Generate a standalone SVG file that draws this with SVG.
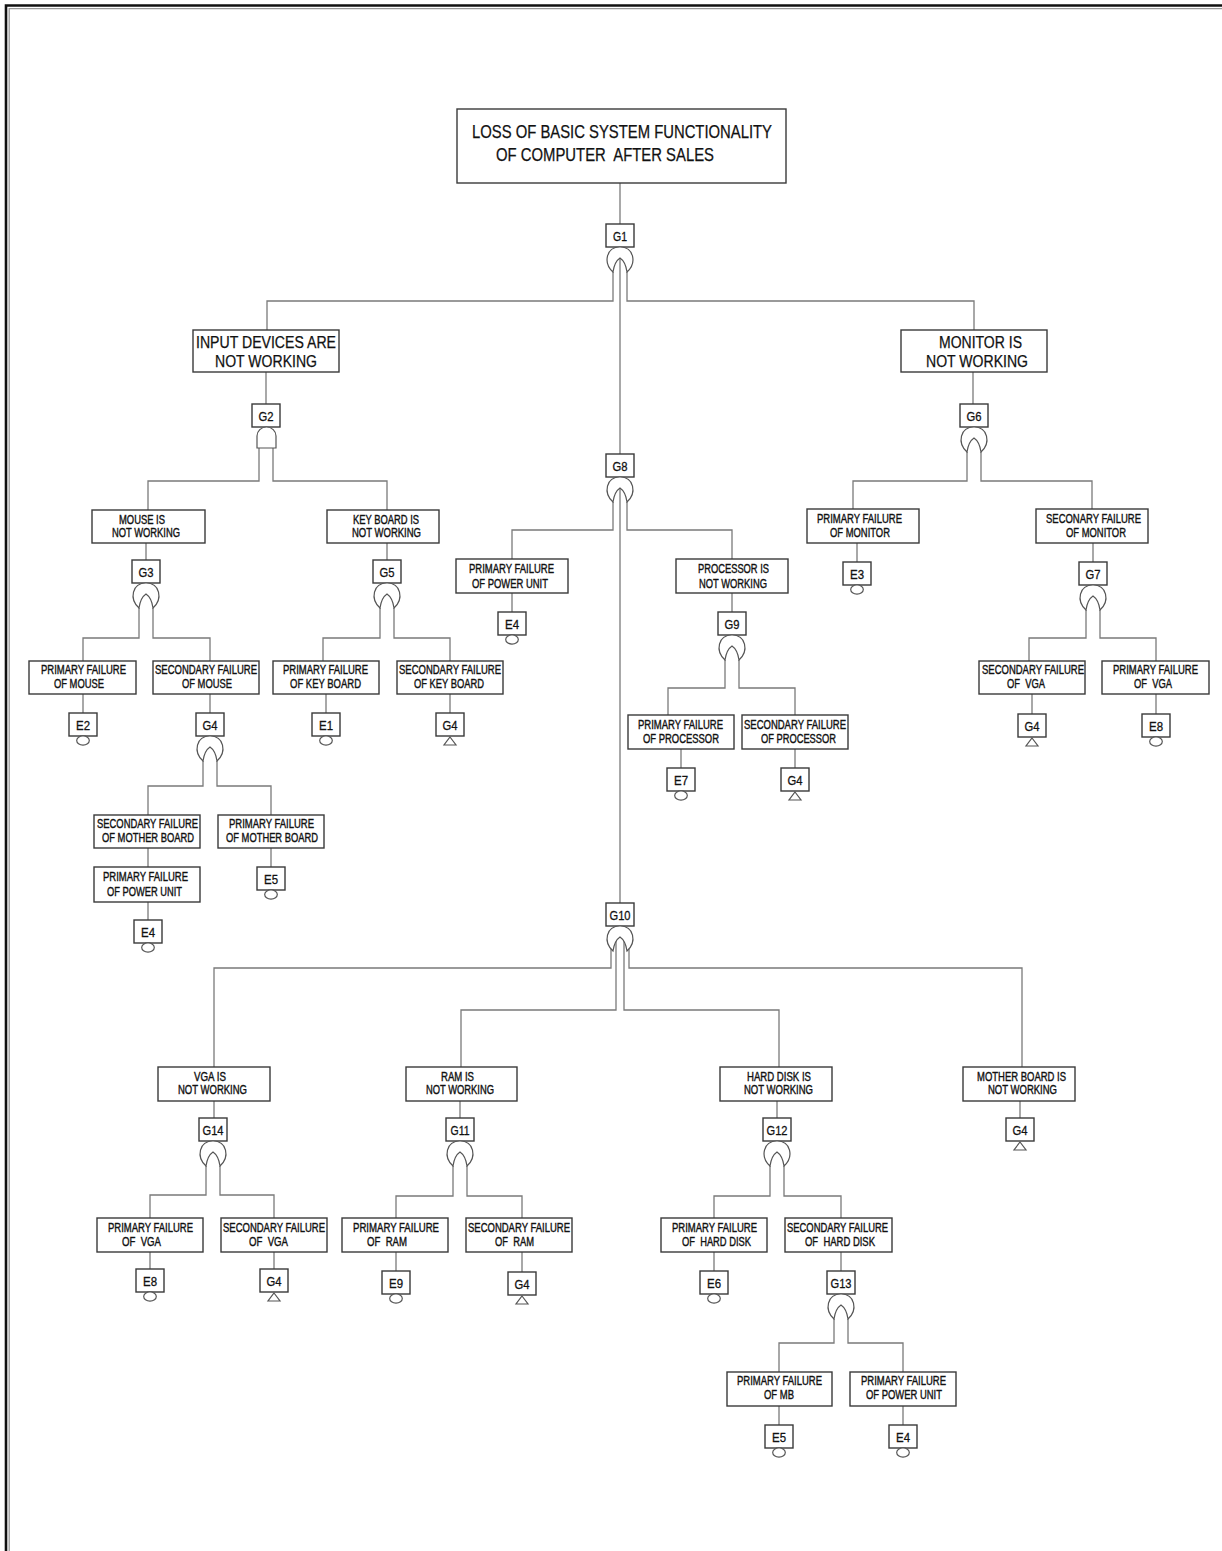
<svg xmlns="http://www.w3.org/2000/svg" xmlns:xlink="http://www.w3.org/1999/xlink" width="1222" height="1551" viewBox="0 0 1222 1551">
<style>
.bx{fill:#fff;stroke:#3a3a3a;stroke-width:1.4}
.lb{fill:#fff;stroke:#3a3a3a;stroke-width:1.4}
.w{fill:none;stroke:#7a7a7a;stroke-width:1.3}
.sym{fill:#fff;stroke:#555;stroke-width:1.2}
text{font-family:"Liberation Sans",Arial,sans-serif;fill:#111;stroke:#111;stroke-width:0.25}
.t1{font-size:18px}
.t2{font-size:16px}
.t3{font-size:12.5px;stroke-width:0.4}
.tg{font-size:13px;text-anchor:middle;stroke-width:0.3}
</style>
<defs>
<path id="org" class="sym" d="M-7,25 C-17,16 -14,0 0,0 C14,0 17,16 7,25 C6,18 3,13 0,11 C-3,13 -6,18 -7,25 Z"/>
<path id="andg" class="sym" d="M-9.5,21 V9 A9.5,9 0 0 1 9.5,9 V21 Z"/>
<path id="tri" class="sym" d="M0,0 L6,8 L-6,8 Z"/>
<ellipse id="circ" class="sym" cx="0" cy="0" rx="6.3" ry="4.6"/>
</defs>
<rect width="1222" height="1551" fill="#fff"/>
<g id="frame">
<path d="M6,1551 V5.5 H1222" fill="none" stroke="#111" stroke-width="2.6"/>
<path d="M9.2,1551 V8.6 H1222" fill="none" stroke="#9a9a9a" stroke-width="1.3"/>
</g>
<g id="connectors">
<path class="w" d="M620,183 V224"/>
<path class="w" d="M613,272 V301 H267 V330 M627,272 V301 H974 V330 M620,258 V454"/>
<path class="w" d="M266,372 V404"/>
<path class="w" d="M259,448 V481 H148 V510 M273,448 V481 H387 V510"/>
<path class="w" d="M146,543 V560 M387,543 V560"/>
<path class="w" d="M139,608 V638 H83 V661 M153,608 V638 H210 V661"/>
<path class="w" d="M380,608 V638 H323 V661 M394,608 V638 H450 V661"/>
<path class="w" d="M83,694 V713 M210,694 V713 M326,694 V713 M450,694 V713"/>
<path class="w" d="M203,761 V786 H148 V815 M217,761 V786 H271 V815"/>
<path class="w" d="M148,848 V867 M148,902 V920 M271,848 V867"/>
<path class="w" d="M613,502 V530 H512 V559 M627,502 V530 H732 V559 M620,488 V903"/>
<path class="w" d="M512,593 V612 M732,593 V612"/>
<path class="w" d="M725,660 V688 H668 V715 M739,660 V688 H795 V715"/>
<path class="w" d="M681,749 V768 M795,749 V768"/>
<path class="w" d="M973,372 V404"/>
<path class="w" d="M967,452 V481 H853 V509 M981,452 V481 H1092 V509"/>
<path class="w" d="M857,543 V562 M1093,543 V562"/>
<path class="w" d="M1086,610 V638 H1029 V661 M1100,610 V638 H1156 V661"/>
<path class="w" d="M1032,694 V714 M1156,694 V714"/>
<path class="w" d="M611,949 V968 H214 V1067 M629,949 V968 H1022 V1067 M616,941 V1010 H461 V1067 M624,941 V1010 H779 V1067"/>
<path class="w" d="M214,1101 V1118 M460,1101 V1118 M777,1101 V1118 M1020,1101 V1118"/>
<path class="w" d="M206,1166 V1195 H150 V1218 M220,1166 V1195 H274 V1218"/>
<path class="w" d="M453,1166 V1196 H396 V1218 M467,1166 V1196 H522 V1218"/>
<path class="w" d="M770,1166 V1196 H714 V1218 M784,1166 V1196 H841 V1218"/>
<path class="w" d="M150,1252 V1269 M274,1252 V1269 M396,1252 V1271 M522,1252 V1272 M714,1252 V1271 M841,1252 V1271"/>
<path class="w" d="M834,1319 V1343 H779 V1372 M848,1319 V1343 H903 V1372"/>
<path class="w" d="M779,1406 V1425 M903,1406 V1425"/>
</g>

<g id="top">
<rect class="bx" x="457" y="109" width="329" height="74"/>
<text class="t1" x="472" y="138" textLength="300" lengthAdjust="spacingAndGlyphs">LOSS OF BASIC SYSTEM FUNCTIONALITY</text>
<text class="t1" x="496" y="161" textLength="218" lengthAdjust="spacingAndGlyphs" xml:space="preserve" style="white-space:pre">OF COMPUTER  AFTER SALES</text>
</g>
<g id="input"><rect class="bx" x="193" y="330" width="146" height="42"/>
<text class="t2" x="196" y="348" textLength="140" lengthAdjust="spacingAndGlyphs">INPUT DEVICES ARE</text>
<text class="t2" x="215" y="367" textLength="102" lengthAdjust="spacingAndGlyphs">NOT WORKING</text></g>
<g id="monitor"><rect class="bx" x="901" y="330" width="146" height="42"/>
<text class="t2" x="939" y="348" textLength="83" lengthAdjust="spacingAndGlyphs">MONITOR IS</text>
<text class="t2" x="926" y="367" textLength="102" lengthAdjust="spacingAndGlyphs">NOT WORKING</text></g>

<g id="mouse"><rect class="bx" x="92" y="510" width="113" height="33"/>
<text class="t3" x="119" y="524" textLength="46" lengthAdjust="spacingAndGlyphs">MOUSE IS</text>
<text class="t3" x="112" y="537" textLength="68" lengthAdjust="spacingAndGlyphs">NOT WORKING</text></g>
<g id="keyboard"><rect class="bx" x="327" y="510" width="112" height="33"/>
<text class="t3" x="353" y="524" textLength="66" lengthAdjust="spacingAndGlyphs">KEY BOARD IS</text>
<text class="t3" x="352" y="537" textLength="69" lengthAdjust="spacingAndGlyphs">NOT WORKING</text></g>

<g id="pf_mouse"><rect class="bx" x="29" y="661" width="107" height="33"/>
<text class="t3" x="41" y="674" textLength="85" lengthAdjust="spacingAndGlyphs">PRIMARY FAILURE</text>
<text class="t3" x="54" y="688" textLength="50" lengthAdjust="spacingAndGlyphs">OF MOUSE</text></g>
<g id="sf_mouse"><rect class="bx" x="153" y="661" width="106" height="33"/>
<text class="t3" x="155" y="674" textLength="102" lengthAdjust="spacingAndGlyphs">SECONDARY FAILURE</text>
<text class="t3" x="182" y="688" textLength="50" lengthAdjust="spacingAndGlyphs">OF MOUSE</text></g>
<g id="pf_kb"><rect class="bx" x="273" y="661" width="106" height="33"/>
<text class="t3" x="283" y="674" textLength="85" lengthAdjust="spacingAndGlyphs">PRIMARY FAILURE</text>
<text class="t3" x="290" y="688" textLength="71" lengthAdjust="spacingAndGlyphs">OF KEY BOARD</text></g>
<g id="sf_kb"><rect class="bx" x="397" y="661" width="106" height="33"/>
<text class="t3" x="399" y="674" textLength="102" lengthAdjust="spacingAndGlyphs">SECONDARY FAILURE</text>
<text class="t3" x="414" y="688" textLength="70" lengthAdjust="spacingAndGlyphs">OF KEY BOARD</text></g>
<g id="sf_mb"><rect class="bx" x="94" y="815" width="106" height="33"/>
<text class="t3" x="97" y="828" textLength="101" lengthAdjust="spacingAndGlyphs">SECONDARY FAILURE</text>
<text class="t3" x="102" y="842" textLength="92" lengthAdjust="spacingAndGlyphs">OF MOTHER BOARD</text></g>
<g id="pf_mb"><rect class="bx" x="218" y="815" width="106" height="33"/>
<text class="t3" x="229" y="828" textLength="85" lengthAdjust="spacingAndGlyphs">PRIMARY FAILURE</text>
<text class="t3" x="226" y="842" textLength="92" lengthAdjust="spacingAndGlyphs">OF MOTHER BOARD</text></g>
<g id="pf_pu1"><rect class="bx" x="94" y="867" width="106" height="35"/>
<text class="t3" x="103" y="881" textLength="85" lengthAdjust="spacingAndGlyphs">PRIMARY FAILURE</text>
<text class="t3" x="107" y="896" textLength="75" lengthAdjust="spacingAndGlyphs">OF POWER UNIT</text></g>

<g id="pf_pu2"><rect class="bx" x="456" y="559" width="112" height="34"/>
<text class="t3" x="469" y="573" textLength="85" lengthAdjust="spacingAndGlyphs">PRIMARY FAILURE</text>
<text class="t3" x="472" y="588" textLength="76" lengthAdjust="spacingAndGlyphs">OF POWER UNIT</text></g>
<g id="processor"><rect class="bx" x="676" y="559" width="112" height="34"/>
<text class="t3" x="698" y="573" textLength="71" lengthAdjust="spacingAndGlyphs">PROCESSOR IS</text>
<text class="t3" x="699" y="588" textLength="68" lengthAdjust="spacingAndGlyphs">NOT WORKING</text></g>
<g id="pf_proc"><rect class="bx" x="628" y="715" width="106" height="34"/>
<text class="t3" x="638" y="729" textLength="85" lengthAdjust="spacingAndGlyphs">PRIMARY FAILURE</text>
<text class="t3" x="643" y="743" textLength="76" lengthAdjust="spacingAndGlyphs">OF PROCESSOR</text></g>
<g id="sf_proc"><rect class="bx" x="742" y="715" width="106" height="34"/>
<text class="t3" x="744" y="729" textLength="102" lengthAdjust="spacingAndGlyphs">SECONDARY FAILURE</text>
<text class="t3" x="761" y="743" textLength="75" lengthAdjust="spacingAndGlyphs">OF PROCESSOR</text></g>

<g id="pf_mon"><rect class="bx" x="807" y="509" width="112" height="34"/>
<text class="t3" x="817" y="523" textLength="85" lengthAdjust="spacingAndGlyphs">PRIMARY FAILURE</text>
<text class="t3" x="830" y="537" textLength="60" lengthAdjust="spacingAndGlyphs">OF MONITOR</text></g>
<g id="sf_mon"><rect class="bx" x="1036" y="509" width="112" height="34"/>
<text class="t3" x="1046" y="523" textLength="95" lengthAdjust="spacingAndGlyphs">SECONARY FAILURE</text>
<text class="t3" x="1066" y="537" textLength="60" lengthAdjust="spacingAndGlyphs">OF MONITOR</text></g>
<g id="sf_vga1"><rect class="bx" x="979" y="661" width="106" height="33"/>
<text class="t3" x="982" y="674" textLength="102" lengthAdjust="spacingAndGlyphs">SECONDARY FAILURE</text>
<text class="t3" x="1007" y="688" textLength="38" lengthAdjust="spacingAndGlyphs" xml:space="preserve" style="white-space:pre">OF  VGA</text></g>
<g id="pf_vga1"><rect class="bx" x="1102" y="661" width="107" height="33"/>
<text class="t3" x="1113" y="674" textLength="85" lengthAdjust="spacingAndGlyphs">PRIMARY FAILURE</text>
<text class="t3" x="1134" y="688" textLength="38" lengthAdjust="spacingAndGlyphs" xml:space="preserve" style="white-space:pre">OF  VGA</text></g>

<g id="vga"><rect class="bx" x="158" y="1067" width="112" height="34"/>
<text class="t3" x="194" y="1081" textLength="32" lengthAdjust="spacingAndGlyphs">VGA IS</text>
<text class="t3" x="178" y="1094" textLength="69" lengthAdjust="spacingAndGlyphs">NOT WORKING</text></g>
<g id="ram"><rect class="bx" x="406" y="1067" width="111" height="34"/>
<text class="t3" x="441" y="1081" textLength="33" lengthAdjust="spacingAndGlyphs">RAM IS</text>
<text class="t3" x="426" y="1094" textLength="68" lengthAdjust="spacingAndGlyphs">NOT WORKING</text></g>
<g id="hd"><rect class="bx" x="720" y="1067" width="112" height="34"/>
<text class="t3" x="747" y="1081" textLength="64" lengthAdjust="spacingAndGlyphs">HARD DISK IS</text>
<text class="t3" x="744" y="1094" textLength="69" lengthAdjust="spacingAndGlyphs">NOT WORKING</text></g>
<g id="mb"><rect class="bx" x="963" y="1067" width="112" height="34"/>
<text class="t3" x="977" y="1081" textLength="89" lengthAdjust="spacingAndGlyphs">MOTHER BOARD IS</text>
<text class="t3" x="988" y="1094" textLength="69" lengthAdjust="spacingAndGlyphs">NOT WORKING</text></g>

<g id="pf_vga2"><rect class="bx" x="97" y="1218" width="106" height="34"/>
<text class="t3" x="108" y="1232" textLength="85" lengthAdjust="spacingAndGlyphs">PRIMARY FAILURE</text>
<text class="t3" x="122" y="1246" textLength="39" lengthAdjust="spacingAndGlyphs" xml:space="preserve" style="white-space:pre">OF  VGA</text></g>
<g id="sf_vga2"><rect class="bx" x="221" y="1218" width="106" height="34"/>
<text class="t3" x="223" y="1232" textLength="102" lengthAdjust="spacingAndGlyphs">SECONDARY FAILURE</text>
<text class="t3" x="249" y="1246" textLength="39" lengthAdjust="spacingAndGlyphs" xml:space="preserve" style="white-space:pre">OF  VGA</text></g>
<g id="pf_ram"><rect class="bx" x="342" y="1218" width="106" height="34"/>
<text class="t3" x="353" y="1232" textLength="86" lengthAdjust="spacingAndGlyphs">PRIMARY FAILURE</text>
<text class="t3" x="367" y="1246" textLength="40" lengthAdjust="spacingAndGlyphs" xml:space="preserve" style="white-space:pre">OF  RAM</text></g>
<g id="sf_ram"><rect class="bx" x="466" y="1218" width="106" height="34"/>
<text class="t3" x="468" y="1232" textLength="102" lengthAdjust="spacingAndGlyphs">SECONDARY FAILURE</text>
<text class="t3" x="495" y="1246" textLength="39" lengthAdjust="spacingAndGlyphs" xml:space="preserve" style="white-space:pre">OF  RAM</text></g>
<g id="pf_hd"><rect class="bx" x="661" y="1218" width="106" height="34"/>
<text class="t3" x="672" y="1232" textLength="85" lengthAdjust="spacingAndGlyphs">PRIMARY FAILURE</text>
<text class="t3" x="682" y="1246" textLength="69" lengthAdjust="spacingAndGlyphs" xml:space="preserve" style="white-space:pre">OF  HARD DISK</text></g>
<g id="sf_hd"><rect class="bx" x="785" y="1218" width="107" height="34"/>
<text class="t3" x="787" y="1232" textLength="101" lengthAdjust="spacingAndGlyphs">SECONDARY FAILURE</text>
<text class="t3" x="805" y="1246" textLength="70" lengthAdjust="spacingAndGlyphs" xml:space="preserve" style="white-space:pre">OF  HARD DISK</text></g>
<g id="pf_mb2"><rect class="bx" x="727" y="1372" width="105" height="34"/>
<text class="t3" x="737" y="1385" textLength="85" lengthAdjust="spacingAndGlyphs">PRIMARY FAILURE</text>
<text class="t3" x="764" y="1399" textLength="30" lengthAdjust="spacingAndGlyphs">OF MB</text></g>
<g id="pf_pu3"><rect class="bx" x="850" y="1372" width="106" height="34"/>
<text class="t3" x="861" y="1385" textLength="85" lengthAdjust="spacingAndGlyphs">PRIMARY FAILURE</text>
<text class="t3" x="866" y="1399" textLength="76" lengthAdjust="spacingAndGlyphs">OF POWER UNIT</text></g>

<g id="G1"><rect class="lb" x="606" y="224" width="28" height="23"/><text class="tg" x="620" y="240.5" textLength="14" lengthAdjust="spacingAndGlyphs">G1</text><use xlink:href="#org" href="#org" transform="translate(620,247)"/></g>
<g id="G2"><rect class="lb" x="252" y="404" width="28" height="23"/><text class="tg" x="266" y="420.5" textLength="15" lengthAdjust="spacingAndGlyphs">G2</text><use xlink:href="#andg" href="#andg" transform="translate(266.5,427)"/></g>
<g id="G3"><rect class="lb" x="132" y="560" width="28" height="23"/><text class="tg" x="146" y="576.5" textLength="15" lengthAdjust="spacingAndGlyphs">G3</text><use xlink:href="#org" href="#org" transform="translate(146,583)"/></g>
<g id="G5"><rect class="lb" x="373" y="560" width="28" height="23"/><text class="tg" x="387" y="576.5" textLength="15" lengthAdjust="spacingAndGlyphs">G5</text><use xlink:href="#org" href="#org" transform="translate(387,583)"/></g>
<g id="G4_mouse"><rect class="lb" x="196" y="713" width="28" height="23"/><text class="tg" x="210" y="729.5" textLength="15" lengthAdjust="spacingAndGlyphs">G4</text><use xlink:href="#org" href="#org" transform="translate(210,736)"/></g>
<g id="G8"><rect class="lb" x="606" y="454" width="28" height="23"/><text class="tg" x="620" y="470.5" textLength="15" lengthAdjust="spacingAndGlyphs">G8</text><use xlink:href="#org" href="#org" transform="translate(620,477)"/></g>
<g id="G9"><rect class="lb" x="718" y="612" width="28" height="23"/><text class="tg" x="732" y="628.5" textLength="15" lengthAdjust="spacingAndGlyphs">G9</text><use xlink:href="#org" href="#org" transform="translate(732,635)"/></g>
<g id="G6"><rect class="lb" x="960" y="404" width="28" height="23"/><text class="tg" x="974" y="420.5" textLength="15" lengthAdjust="spacingAndGlyphs">G6</text><use xlink:href="#org" href="#org" transform="translate(974,427)"/></g>
<g id="G7"><rect class="lb" x="1079" y="562" width="28" height="23"/><text class="tg" x="1093" y="578.5" textLength="15" lengthAdjust="spacingAndGlyphs">G7</text><use xlink:href="#org" href="#org" transform="translate(1093,585)"/></g>
<g id="G10"><rect class="lb" x="606" y="903" width="28" height="23"/><text class="tg" x="620" y="919.5" textLength="21" lengthAdjust="spacingAndGlyphs">G10</text><use xlink:href="#org" href="#org" transform="translate(620,926)"/></g>
<g id="G14"><rect class="lb" x="199" y="1118" width="28" height="23"/><text class="tg" x="213" y="1134.5" textLength="21" lengthAdjust="spacingAndGlyphs">G14</text><use xlink:href="#org" href="#org" transform="translate(213,1141)"/></g>
<g id="G11"><rect class="lb" x="446" y="1118" width="28" height="23"/><text class="tg" x="460" y="1134.5" textLength="19" lengthAdjust="spacingAndGlyphs">G11</text><use xlink:href="#org" href="#org" transform="translate(460,1141)"/></g>
<g id="G12"><rect class="lb" x="763" y="1118" width="28" height="23"/><text class="tg" x="777" y="1134.5" textLength="21" lengthAdjust="spacingAndGlyphs">G12</text><use xlink:href="#org" href="#org" transform="translate(777,1141)"/></g>
<g id="G13"><rect class="lb" x="827" y="1271" width="28" height="23"/><text class="tg" x="841" y="1287.5" textLength="21" lengthAdjust="spacingAndGlyphs">G13</text><use xlink:href="#org" href="#org" transform="translate(841,1294)"/></g>

<g id="T_kb"><rect class="lb" x="436" y="713" width="28" height="23"/><text class="tg" x="450" y="729.5" textLength="15" lengthAdjust="spacingAndGlyphs">G4</text><use xlink:href="#tri" href="#tri" transform="translate(450,737)"/></g>
<g id="T_proc"><rect class="lb" x="781" y="768" width="28" height="23"/><text class="tg" x="795" y="784.5" textLength="15" lengthAdjust="spacingAndGlyphs">G4</text><use xlink:href="#tri" href="#tri" transform="translate(795,792)"/></g>
<g id="T_vga1"><rect class="lb" x="1018" y="714" width="28" height="23"/><text class="tg" x="1032" y="730.5" textLength="15" lengthAdjust="spacingAndGlyphs">G4</text><use xlink:href="#tri" href="#tri" transform="translate(1032,738)"/></g>
<g id="T_vga2"><rect class="lb" x="260" y="1269" width="28" height="23"/><text class="tg" x="274" y="1285.5" textLength="15" lengthAdjust="spacingAndGlyphs">G4</text><use xlink:href="#tri" href="#tri" transform="translate(274,1293)"/></g>
<g id="T_ram"><rect class="lb" x="508" y="1272" width="28" height="23"/><text class="tg" x="522" y="1288.5" textLength="15" lengthAdjust="spacingAndGlyphs">G4</text><use xlink:href="#tri" href="#tri" transform="translate(522,1296)"/></g>
<g id="T_mb"><rect class="lb" x="1006" y="1118" width="28" height="23"/><text class="tg" x="1020" y="1134.5" textLength="15" lengthAdjust="spacingAndGlyphs">G4</text><use xlink:href="#tri" href="#tri" transform="translate(1020,1142)"/></g>

<g id="E2"><rect class="lb" x="69" y="713" width="28" height="23"/><text class="tg" x="83" y="729.5" textLength="14" lengthAdjust="spacingAndGlyphs">E2</text><use xlink:href="#circ" href="#circ" transform="translate(83,740.5)"/></g>
<g id="E1"><rect class="lb" x="312" y="713" width="28" height="23"/><text class="tg" x="326" y="729.5" textLength="14" lengthAdjust="spacingAndGlyphs">E1</text><use xlink:href="#circ" href="#circ" transform="translate(326,740.5)"/></g>
<g id="E4_a"><rect class="lb" x="134" y="920" width="28" height="23"/><text class="tg" x="148" y="936.5" textLength="14" lengthAdjust="spacingAndGlyphs">E4</text><use xlink:href="#circ" href="#circ" transform="translate(148,947.5)"/></g>
<g id="E5_a"><rect class="lb" x="257" y="867" width="28" height="23"/><text class="tg" x="271" y="883.5" textLength="14" lengthAdjust="spacingAndGlyphs">E5</text><use xlink:href="#circ" href="#circ" transform="translate(271,894.5)"/></g>
<g id="E4_b"><rect class="lb" x="498" y="612" width="28" height="23"/><text class="tg" x="512" y="628.5" textLength="14" lengthAdjust="spacingAndGlyphs">E4</text><use xlink:href="#circ" href="#circ" transform="translate(512,639.5)"/></g>
<g id="E7"><rect class="lb" x="667" y="768" width="28" height="23"/><text class="tg" x="681" y="784.5" textLength="14" lengthAdjust="spacingAndGlyphs">E7</text><use xlink:href="#circ" href="#circ" transform="translate(681,795.5)"/></g>
<g id="E3"><rect class="lb" x="843" y="562" width="28" height="23"/><text class="tg" x="857" y="578.5" textLength="14" lengthAdjust="spacingAndGlyphs">E3</text><use xlink:href="#circ" href="#circ" transform="translate(857,589.5)"/></g>
<g id="E8_a"><rect class="lb" x="1142" y="714" width="28" height="23"/><text class="tg" x="1156" y="730.5" textLength="14" lengthAdjust="spacingAndGlyphs">E8</text><use xlink:href="#circ" href="#circ" transform="translate(1156,741.5)"/></g>
<g id="E8_b"><rect class="lb" x="136" y="1269" width="28" height="23"/><text class="tg" x="150" y="1285.5" textLength="14" lengthAdjust="spacingAndGlyphs">E8</text><use xlink:href="#circ" href="#circ" transform="translate(150,1296.5)"/></g>
<g id="E9"><rect class="lb" x="382" y="1271" width="28" height="23"/><text class="tg" x="396" y="1287.5" textLength="14" lengthAdjust="spacingAndGlyphs">E9</text><use xlink:href="#circ" href="#circ" transform="translate(396,1298.5)"/></g>
<g id="E6"><rect class="lb" x="700" y="1271" width="28" height="23"/><text class="tg" x="714" y="1287.5" textLength="14" lengthAdjust="spacingAndGlyphs">E6</text><use xlink:href="#circ" href="#circ" transform="translate(714,1298.5)"/></g>
<g id="E5_b"><rect class="lb" x="765" y="1425" width="28" height="23"/><text class="tg" x="779" y="1441.5" textLength="14" lengthAdjust="spacingAndGlyphs">E5</text><use xlink:href="#circ" href="#circ" transform="translate(779,1452.5)"/></g>
<g id="E4_c"><rect class="lb" x="889" y="1425" width="28" height="23"/><text class="tg" x="903" y="1441.5" textLength="14" lengthAdjust="spacingAndGlyphs">E4</text><use xlink:href="#circ" href="#circ" transform="translate(903,1452.5)"/></g>
</svg>
